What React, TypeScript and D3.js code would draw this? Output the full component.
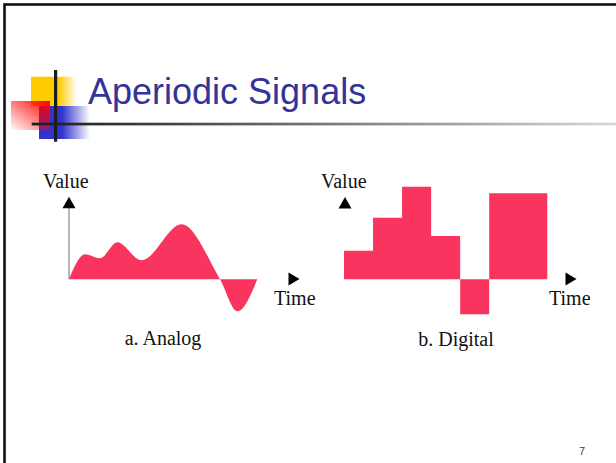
import * as d3 from 'd3'

// Analog signal: time (arbitrary units) and amplitude
const analogTime = [0, 0.85, 1.65, 2.56, 3.85, 5.98, 8.02, 8.94, 10]
const analogValue = [0, 25, 21, 37, 19, 55, 0, -32, 0]

// Digital signal: one level per time slot (last entry closes the final slot)
const digitalTime = [0, 1, 2, 3, 4, 5, 6, 7]
const digitalValue = [28.6, 61.6, 92.6, 43.3, -35, 86, 86, 86]

const title = 'Aperiodic Signals'
const analogCaption = 'a. Analog'
const digitalCaption = 'b. Digital'

const W = 616
const H = 463
const FILL = '#f8345f'
const SERIF = '"Liberation Serif", "Times New Roman", serif'
const SANS = '"Liberation Sans", Arial, sans-serif'

// shared value scale, zero sits on the baseline of both panels
const y = d3.scaleLinear().domain([-40, 100]).range([319.3, 179.3])
const xAnalog = d3.scaleLinear().domain([0, 10]).range([69, 257.3])
const xDigital = d3.scaleLinear().domain([0, 7]).range([344, 547.3])

function UpArrow({ x, top }: { x: number; top: number }) {
  return <path d={`M${x},${top} L${x + 6.5},${top + 11.5} L${x - 6.5},${top + 11.5} Z`} fill="#000" />
}

function RightArrow({ x, yc }: { x: number; yc: number }) {
  return <path d={`M${x},${yc - 6.5} L${x + 11},${yc} L${x},${yc + 6.5} Z`} fill="#000" />
}

export default function App() {
  const analogPts = analogTime.map((t, i) => [t, analogValue[i]] as [number, number])
  const analogArea = d3.area<[number, number]>()
    .x(d => xAnalog(d[0]))
    .y0(y(0))
    .y1(d => y(d[1]))
    .curve(d3.curveMonotoneX)(analogPts) || ''

  const digitalPts = digitalTime.map((t, i) => [t, digitalValue[i]] as [number, number])
  const digitalArea = d3.area<[number, number]>()
    .x(d => xDigital(d[0]))
    .y0(y(0))
    .y1(d => y(d[1]))
    .curve(d3.curveStepAfter)(digitalPts) || ''

  const base = y(0)

  return (
    <svg width={W} height={H} style={{ position: 'absolute', left: 0, top: 0, background: '#fff' }}>
      <defs>
        <linearGradient id="gYellow" x1="0" y1="0" x2="1" y2="0">
          <stop offset="0" stopColor="#ffcc00" />
          <stop offset="0.6" stopColor="#ffcc00" />
          <stop offset="1" stopColor="#ffcc00" stopOpacity="0" />
        </linearGradient>
        <linearGradient id="gBlue" x1="0" y1="0" x2="1" y2="0">
          <stop offset="0" stopColor="#3333cc" />
          <stop offset="0.45" stopColor="#3333cc" />
          <stop offset="1" stopColor="#3333cc" stopOpacity="0" />
        </linearGradient>
        <linearGradient id="gRed" x1="1" y1="0" x2="0" y2="1">
          <stop offset="0" stopColor="#ff0000" />
          <stop offset="1" stopColor="#ff0000" stopOpacity="0.02" />
        </linearGradient>
        <linearGradient id="gRule" x1="0" y1="0" x2="1" y2="0">
          <stop offset="0" stopColor="#1e1e1e" />
          <stop offset="0.12" stopColor="#2e2e2e" />
          <stop offset="1" stopColor="#d8d8d8" />
        </linearGradient>
      </defs>

      {/* slide frame */}
      <rect x={4.5} y={4.5} width={W + 20} height={H + 20} fill="none" stroke="#111" strokeWidth={2.6} />

      {/* title decoration */}
      <rect x={31} y={76.7} width={46} height={29.3} fill="url(#gYellow)" />
      <rect x={39} y={106} width={51} height={33} fill="url(#gBlue)" />
      <rect x={11} y={101} width={39} height={29} fill="url(#gRed)" />
      <rect x={31.7} y={122.7} width={W - 31.7} height={2.7} fill="url(#gRule)" />
      <rect x={54} y={70} width={3.2} height={71.7} fill="#1c1c1c" />

      <text x={88} y={104} fontFamily={SANS} fontSize={36} fill="#333399">{title}</text>

      {/* analog panel */}
      <text x={43} y={188} fontFamily={SERIF} fontSize={20} fill="#111">Value</text>
      <line x1={xAnalog(0)} x2={xAnalog(0)} y1={base} y2={207} stroke="#888" strokeWidth={1.2} />
      <UpArrow x={xAnalog(0)} top={196.7} />
      <path d={analogArea} fill={FILL} />
      <RightArrow x={288.5} yc={279} />
      <text x={274} y={305} fontFamily={SERIF} fontSize={20} fill="#111">Time</text>
      <text x={163} y={345} textAnchor="middle" fontFamily={SERIF} fontSize={20} fill="#111">{analogCaption}</text>

      {/* digital panel */}
      <text x={321} y={188} fontFamily={SERIF} fontSize={20} fill="#111">Value</text>
      <UpArrow x={345} top={197} />
      <path d={digitalArea} fill={FILL} />
      <RightArrow x={565.5} yc={279} />
      <text x={549} y={305} fontFamily={SERIF} fontSize={20} fill="#111">Time</text>
      <text x={456} y={346} textAnchor="middle" fontFamily={SERIF} fontSize={20} fill="#111">{digitalCaption}</text>

      {/* slide number */}
      <text x={579} y={455} fontFamily={SANS} fontSize={11} fill="#444">7</text>
    </svg>
  )
}
